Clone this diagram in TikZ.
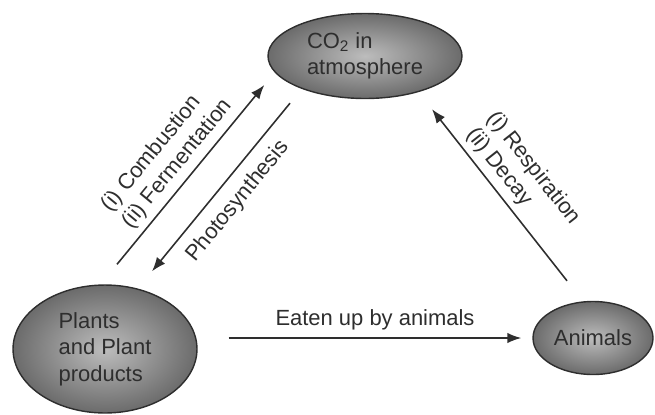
\documentclass[tikz,border=0pt]{standalone}
\usepackage{fontspec}
\setmainfont{Liberation Sans}
\usetikzlibrary{arrows.meta,shapes.geometric}

\definecolor{ellin}{gray}{0.74}
\definecolor{ellout}{gray}{0.42}
\definecolor{ink}{gray}{0.18}

\begin{document}
\begin{tikzpicture}[x=0.02cm, y=0.02cm, >={Latex[length=8pt,width=6pt]},
    pool/.style={ellipse, draw=ink, line width=0.8pt, shading=radial,
        inner color=ellin, outer color=ellout, text=ink, align=left,
        inner sep=0pt, font=\fontsize{12.5}{15}\selectfont},
    flow/.style={->, draw=ink, line width=0.9pt},
    note/.style={text=ink, align=left, font=\fontsize{12.5}{15}\selectfont}]
    \useasboundingbox (0,0) rectangle (655,414);
    % the three pools
    \node[pool, minimum width=3.88cm, minimum height=1.7cm] (co2) at (365,358) {CO\textsubscript{2} in\\atmosphere};
    \node[pool, minimum width=3.68cm, minimum height=2.56cm] (plants) at (105,65) {Plants\\and Plant\\products};
    \node[pool, minimum width=2.4cm, minimum height=1.46cm] (animals) at (593,76) {Animals};
    % flows between them
    \draw[flow] ([shift={(12,20)}]plants.north) -- node[note, midway, sloped, above] {(i) Combustion\\(ii) Fermentation} ([shift={(-3,-29)}]co2.west);
    \draw[flow] ([shift={(-75,-4)}]co2.south) -- node[note, midway, sloped, below=3pt] {Photosynthesis} ([shift={(47,13)}]plants.north);
    \draw[flow] ([shift={(-26,20)}]animals.north) -- node[note, midway, sloped, above] {(i) Respiration\\(ii) Decay} ([shift={(67,-10)}]co2.south);
    \draw[flow] ([shift={(31,11)}]plants.east) -- node[note, midway, above=1pt] {Eaten up by animals} ([shift={(-11,0)}]animals.west);
\end{tikzpicture}
\end{document}
